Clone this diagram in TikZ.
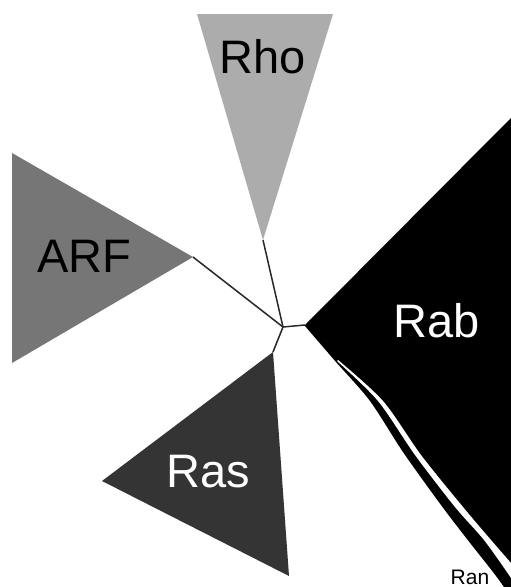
\documentclass[tikz,border=0pt]{standalone}
\usepackage{fontspec}
\setmainfont{Liberation Sans}
\definecolor{rhogray}{RGB}{172,172,172}
\definecolor{arfgray}{RGB}{118,118,118}
\definecolor{rasgray}{RGB}{52,52,52}
\definecolor{branchgray}{RGB}{40,40,40}
\begin{document}
\begin{tikzpicture}[x=1pt,y=-1pt,
  branch/.style={line width=1.5pt, draw=branchgray},
  biglabel/.style={font=\fontsize{47}{50}\selectfont, inner sep=0pt, anchor=base},
  smalllabel/.style={font=\fontsize{21}{23}\selectfont, inner sep=0pt, anchor=base}]
\useasboundingbox (0,0) rectangle (511,587);
\fill[white] (0,0) rectangle (511,587);
% tree points
\coordinate (c) at (283,327);
\coordinate (rho) at (263,240);
\coordinate (arf) at (193,257);
\coordinate (rab) at (305,325);
\coordinate (ras) at (273,352);
% clades
\fill[rhogray] (197,14) -- (333,14) -- (rho) -- cycle;
\fill[arfgray] (12,153) -- (193,257) -- (12,363) -- cycle;
\fill[rasgray] (ras) -- (102,481) -- (289,576) -- cycle;
\fill[black] (511,587) -- (511,118) -- (rab) --
  plot[smooth, tension=0.5] coordinates {(305,326) (336,362) (370,401) (403,452) (441,505) (467,539) (493,572) (504,587)}
  -- cycle;
\fill[white] plot[smooth, tension=0.5] coordinates {(338,360) (383,401) (421,455) (463,507) (491,540) (511,563)}
  -- (511,578) --
  plot[smooth, tension=0.5] coordinates {(509,575) (484,540) (455,507) (415,455) (378,401) (337,361)}
  -- cycle;
% branches
\draw[branch] (rho) -- (c);
\draw[branch] (arf) -- (c);
\draw[branch] (c) -- (rab);
\draw[branch] (c) -- (ras);
% labels
\node[biglabel] (lrho) at (263,73) {Rho};
\node[biglabel] (larf) at (84,272) {ARF};
\node[biglabel, text=white] (lrab) at (437,337) {Rab};
\node[biglabel, text=white] (lras) at (208,487) {Ras};
\node[smalllabel] (lran) at (470,584) {Ran};
\end{tikzpicture}
\end{document}
